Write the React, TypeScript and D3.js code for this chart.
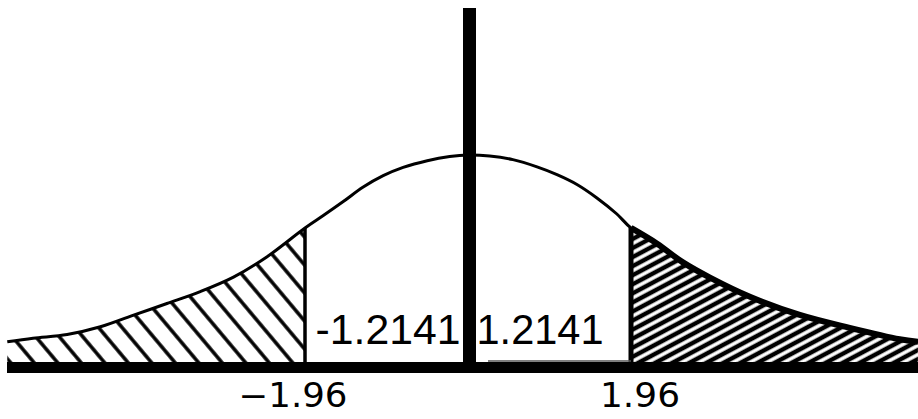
import React from "react";
import * as d3 from "d3";

// Bell curve outline, read as (z, density) pairs
const curveZ = [-5.54, -5.23, -4.82, -4.42, -4.03, -3.62, -3.22, -2.82, -2.42, -1.96, -1.74, -1.5, -1.26, -1.02, -0.78, -0.49, -0.22, 0, 0.26, 0.54, 0.83, 1.07, 1.31, 1.55, 1.79, 1.96, 2.27, 2.58, 2.91, 3.39, 3.99, 4.59, 5.19, 5.41];
const curveDensity = [0.039, 0.046, 0.053, 0.068, 0.09, 0.113, 0.136, 0.164, 0.203, 0.259, 0.283, 0.31, 0.338, 0.36, 0.376, 0.389, 0.397, 0.4, 0.398, 0.391, 0.377, 0.362, 0.343, 0.317, 0.286, 0.259, 0.229, 0.193, 0.163, 0.126, 0.091, 0.066, 0.044, 0.039];

// Critical values marking the rejection regions
const criticalValues = [-1.96, 1.96];
const criticalLabels = ["\u22121.96", "1.96"];

// Test statistic shown on either side of the centre
const statValues = [-1.2141, 1.2141];
const statLabels = ["-1.2141", "1.2141"];

const W = 918;
const H = 419;

export default function App() {
  const x = d3.scaleLinear().domain([-1.96, 1.96]).range([305, 631]);
  const y = d3.scaleLinear().domain([0, 0.4]).range([362, 155]);

  const pts: [number, number][] = curveZ.map((z, i) => [z, curveDensity[i]]);
  const line = d3
    .line<[number, number]>()
    .x((d) => x(d[0]))
    .y((d) => y(d[1]))
    .curve(d3.curveCatmullRom.alpha(0.5));
  const area = d3
    .area<[number, number]>()
    .x((d) => x(d[0]))
    .y0(y(0))
    .y1((d) => y(d[1]))
    .curve(d3.curveCatmullRom.alpha(0.5));

  const leftTail = pts.filter((d) => d[0] <= criticalValues[0]);
  const rightTail = pts.filter((d) => d[0] >= criticalValues[1]);
  const densityAt = (z: number) => curveDensity[curveZ.indexOf(z)];

  const x0 = x(0) + 1.5;
  const baseY = y(0);

  return (
    <svg
      width={W}
      height={H}
      style={{ position: "absolute", left: 0, top: 0, background: "#fff" }}
    >
      <defs>
        <pattern
          id="hatchLeft"
          patternUnits="userSpaceOnUse"
          width={40}
          height={18}
          patternTransform="rotate(50)"
        >
          <line x1={0} y1={9} x2={40} y2={9} stroke="#000" strokeWidth={3.6} />
        </pattern>
        <pattern
          id="hatchRight"
          patternUnits="userSpaceOnUse"
          width={40}
          height={8}
          patternTransform="rotate(-28)"
        >
          <line x1={0} y1={4} x2={40} y2={4} stroke="#000" strokeWidth={4.6} />
        </pattern>
      </defs>

      {/* shaded tails */}
      <path d={area(leftTail) ?? ""} fill="url(#hatchLeft)" />
      <path d={area(rightTail) ?? ""} fill="url(#hatchRight)" />

      {/* density curve */}
      <path d={line(pts) ?? ""} fill="none" stroke="#000" strokeWidth={3} />
      <path d={line(rightTail) ?? ""} fill="none" stroke="#000" strokeWidth={6} />

      {/* critical value boundaries */}
      <line
        x1={x(criticalValues[0])}
        x2={x(criticalValues[0])}
        y1={y(densityAt(criticalValues[0]))}
        y2={baseY}
        stroke="#000"
        strokeWidth={3.5}
      />
      <line
        x1={x(criticalValues[1])}
        x2={x(criticalValues[1])}
        y1={y(densityAt(criticalValues[1]))}
        y2={baseY}
        stroke="#000"
        strokeWidth={5}
      />
      <line x1={488} x2={x(criticalValues[1])} y1={baseY - 1} y2={baseY - 1} stroke="#555" strokeWidth={1.5} />

      {/* horizontal axis */}
      <rect x={7} y={baseY} width={W - 7} height={11} fill="#000" />
      {/* vertical axis */}
      <rect x={x0 - 6.5} y={8} width={13} height={baseY + 11 - 8} fill="#000" />

      {/* test statistic labels */}
      {statValues.map((v, i) => (
        <text
          key={i}
          x={v < 0 ? x0 - 9 : x0 + 7}
          y={baseY - 18}
          textAnchor={v < 0 ? "end" : "start"}
          fontFamily="'Liberation Sans', Arial, sans-serif"
          fontSize={42}
          textLength={v < 0 ? 145 : 127}
          lengthAdjust="spacingAndGlyphs"
          fill="#000"
        >
          {statLabels[i]}
        </text>
      ))}

      {/* critical value labels */}
      {criticalValues.map((c, i) => (
        <text
          key={i}
          x={x(c) + (c < 0 ? -12 : 9)}
          y={407}
          textAnchor="middle"
          fontFamily="'DejaVu Sans', sans-serif"
          fontSize={33}
          textLength={c < 0 ? 109 : 80}
          lengthAdjust="spacingAndGlyphs"
          fill="#000"
        >
          {criticalLabels[i]}
        </text>
      ))}
    </svg>
  );
}
